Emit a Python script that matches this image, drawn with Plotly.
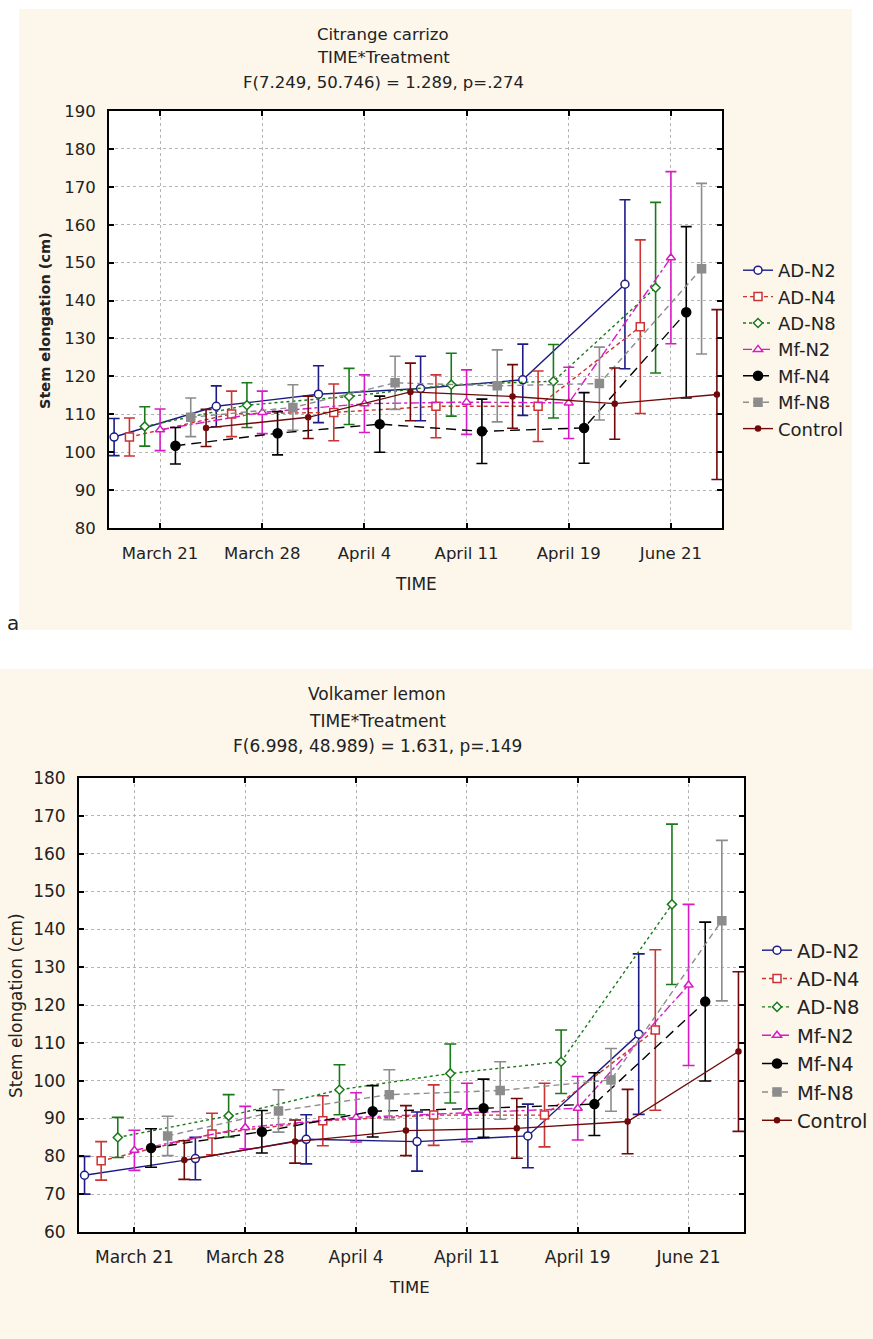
import plotly.graph_objects as go

W, H = 873, 1339

times = ["March 21", "March 28", "April 4", "April 11", "April 19", "June 21"]
treatments = ["AD-N2", "AD-N4", "AD-N8", "Mf-N2", "Mf-N4", "Mf-N8", "Control"]

# ---- Citrange carrizo: means and error half-widths (cm) ----
cc_ad_n2 = [104.0, 112.1, 115.3, 116.8, 119.1, 144.3]
cc_ad_n2_err = [4.9, 5.4, 7.5, 8.5, 9.4, 22.3]
cc_ad_n4 = [104.0, 110.1, 110.5, 112.1, 112.1, 133.1]
cc_ad_n4_err = [5.0, 6.0, 7.5, 8.3, 9.3, 22.9]
cc_ad_n8 = [106.8, 112.4, 114.7, 117.8, 118.7, 143.4]
cc_ad_n8_err = [5.2, 5.9, 7.4, 8.3, 9.7, 22.5]
cc_mf_n2 = [105.9, 110.5, 112.8, 113.2, 113.0, 151.3]
cc_mf_n2_err = [5.5, 5.6, 7.6, 8.5, 9.4, 22.7]
cc_mf_n4 = [101.7, 105.0, 107.4, 105.5, 106.4, 136.9]
cc_mf_n4_err = [4.8, 5.7, 7.4, 8.5, 9.3, 22.6]
cc_mf_n8 = [109.2, 111.8, 118.3, 117.5, 118.1, 148.4]
cc_mf_n8_err = [5.1, 6.0, 7.0, 9.5, 9.6, 22.5]
cc_control = [106.4, 109.2, 115.9, 114.7, 112.8, 115.2]
cc_control_err = [4.9, 5.6, 7.6, 8.4, 9.4, 22.4]

# ---- Volkamer lemon: means and error half-widths (cm) ----
vl_ad_n2 = [75.0, 79.4, 84.5, 83.9, 85.4, 112.3]
vl_ad_n2_err = [5.0, 5.6, 6.5, 7.8, 8.4, 21.2]
vl_ad_n4 = [78.8, 85.9, 89.4, 90.9, 90.9, 113.4]
vl_ad_n4_err = [5.1, 5.5, 6.6, 8.0, 8.4, 21.2]
vl_ad_n8 = [85.0, 90.7, 97.6, 101.9, 105.0, 146.6]
vl_ad_n8_err = [5.3, 5.6, 6.6, 7.8, 8.4, 21.2]
vl_mf_n2 = [81.6, 87.6, 90.3, 91.6, 92.7, 125.3]
vl_mf_n2_err = [5.3, 5.6, 6.5, 7.7, 8.4, 21.3]
vl_mf_n4 = [82.2, 86.5, 91.9, 92.7, 93.8, 120.9]
vl_mf_n4_err = [5.1, 5.6, 6.8, 7.7, 8.3, 21.0]
vl_mf_n8 = [85.4, 92.0, 96.3, 97.4, 100.2, 142.3]
vl_mf_n8_err = [5.2, 5.6, 6.6, 7.6, 8.3, 21.2]
vl_control = [79.0, 83.9, 86.8, 87.4, 89.2, 107.7]
vl_control_err = [5.1, 5.7, 6.6, 7.9, 8.5, 21.1]

cc_means = [cc_ad_n2, cc_ad_n4, cc_ad_n8, cc_mf_n2, cc_mf_n4, cc_mf_n8, cc_control]
cc_errs = [cc_ad_n2_err, cc_ad_n4_err, cc_ad_n8_err, cc_mf_n2_err, cc_mf_n4_err, cc_mf_n8_err, cc_control_err]
vl_means = [vl_ad_n2, vl_ad_n4, vl_ad_n8, vl_mf_n2, vl_mf_n4, vl_mf_n8, vl_control]
vl_errs = [vl_ad_n2_err, vl_ad_n4_err, vl_ad_n8_err, vl_mf_n2_err, vl_mf_n4_err, vl_mf_n8_err, vl_control_err]

styles = [
    dict(color="#1C1C84", dash="solid", symbol="circle", size=8, fill="white"),
    dict(color="#CC3333", dash="4px,3px", symbol="square", size=8, fill="white"),
    dict(color="#1A7A1A", dash="dot", symbol="diamond", size=7, fill="white"),
    dict(color="#D81BC4", dash="dashdot", symbol="triangle-up", size=8, fill="white"),
    dict(color="#000000", dash="10px,6px", symbol="circle", size=9, fill="#000000"),
    dict(color="#8C8C8C", dash="6px,4px", symbol="square", size=8, fill="#8C8C8C"),
    dict(color="#700A0A", dash="solid", symbol="circle", size=5, fill="#700A0A"),
]

DODGE = 0.15
fig = go.Figure()


def add_panel(means, errs, xa, ya, leg, capw):
    for i, name in enumerate(treatments):
        st = styles[i]
        xs = [k + (i - 3) * DODGE for k in range(len(times))]
        fig.add_trace(go.Scatter(
            x=xs, y=means[i], mode="lines+markers", name=name,
            xaxis=xa, yaxis=ya, legend=leg,
            line=dict(color=st["color"], width=1.4, dash=st["dash"]),
            marker=dict(symbol=st["symbol"], size=st["size"], color=st["fill"],
                        line=dict(color=st["color"], width=1.5)),
            error_y=dict(type="data", array=errs[i], color=st["color"],
                         thickness=1.6, width=capw),
        ))


add_panel(cc_means, cc_errs, "x", "y", "legend", 5.5)
add_panel(vl_means, vl_errs, "x2", "y2", "legend2", 6)

TXT = "#222222"
FONT = "DejaVu Sans"


def px_x(p):
    return p / W


def px_y(p):
    return 1 - p / H


axis_common = dict(
    showline=True, linecolor="black", linewidth=2, mirror="ticks",
    ticks="inside", ticklen=5, tickwidth=2, tickcolor="black",
    showgrid=True, gridcolor="#B4B4B4", gridwidth=1, griddash="dot",
    zeroline=False, automargin=False,
)

fig.update_layout(
    width=W, height=H,
    margin=dict(l=0, r=0, t=0, b=0, pad=0),
    paper_bgcolor="white", plot_bgcolor="white",
    font=dict(family=FONT, color=TXT),
    xaxis=dict(domain=[px_x(109), px_x(722)], anchor="y", range=[-0.5, 5.5],
               tickvals=list(range(len(times))), ticktext=times,
               tickfont=dict(size=16.5, color=TXT), ticklabelstandoff=9, **axis_common),
    yaxis=dict(domain=[px_y(528), px_y(111)], anchor="x", range=[80, 190], dtick=10,
               tickfont=dict(size=16.5, color=TXT), ticklabelstandoff=8, **axis_common),
    xaxis2=dict(domain=[px_x(79), px_x(744)], anchor="y2", range=[-0.5, 5.5],
                tickvals=list(range(len(times))), ticktext=times,
                tickfont=dict(size=17, color=TXT), ticklabelstandoff=9, **axis_common),
    yaxis2=dict(domain=[px_y(1232), px_y(778)], anchor="x2", range=[60, 180], dtick=10,
                tickfont=dict(size=17, color=TXT), ticklabelstandoff=8, **axis_common),
    legend=dict(x=px_x(738), y=px_y(252), xanchor="left", yanchor="top",
                bgcolor="rgba(0,0,0,0)", font=dict(size=18, color=TXT), itemwidth=30),
    legend2=dict(x=1, y=px_y(931), xanchor="right", yanchor="top",
                 bgcolor="rgba(0,0,0,0)", font=dict(size=19.5, color=TXT), itemwidth=30),
    showlegend=True,
)

BEIGE = "#FDF6EB"
fig.add_shape(type="rect", xref="paper", yref="paper", x0=px_x(19), x1=px_x(852),
              y0=px_y(630), y1=px_y(9), fillcolor=BEIGE, line=dict(width=0), layer="below")
fig.add_shape(type="rect", xref="paper", yref="paper", x0=0, x1=1,
              y0=0, y1=px_y(669), fillcolor=BEIGE, line=dict(width=0), layer="below")
for xr, yr in (("x domain", "y domain"), ("x2 domain", "y2 domain")):
    fig.add_shape(type="rect", xref=xr, yref=yr, x0=0, x1=1, y0=0, y1=1,
                  fillcolor="white", line=dict(width=0), layer="below")


def note(text, x, y, size, **kw):
    fig.add_annotation(text=text, x=px_x(x), y=px_y(y), xref="paper", yref="paper",
                       showarrow=False, xanchor=kw.pop("xanchor", "center"),
                       yanchor="middle", font=dict(size=size, color=TXT, family=FONT,
                                                   weight=kw.pop("weight", "normal")), **kw)


# Top panel titles
note("Citrange carrizo", 383, 34, 16.5)
note("TIME*Treatment", 383, 58, 16.5)
note("F(7.249, 50.746) = 1.289, p=.274", 383, 82, 16.5)
note("TIME", 416, 584, 17)
note("Stem elongation (cm)", 45, 321, 14.5, textangle=-90, weight="bold")
note("a", 13, 623, 20)

# Bottom panel titles
note("Volkamer lemon", 377, 694, 17)
note("TIME*Treatment", 377, 721, 17)
note("F(6.998, 48.989) = 1.631, p=.149", 377, 746, 17)
note("TIME", 409, 1287, 16.5)
note("Stem elongation (cm)", 16, 1006, 17, textangle=-90)

fig.write_html("out.html", config={"displayModeBar": False},
               post_script="document.body.style.margin='0';")
